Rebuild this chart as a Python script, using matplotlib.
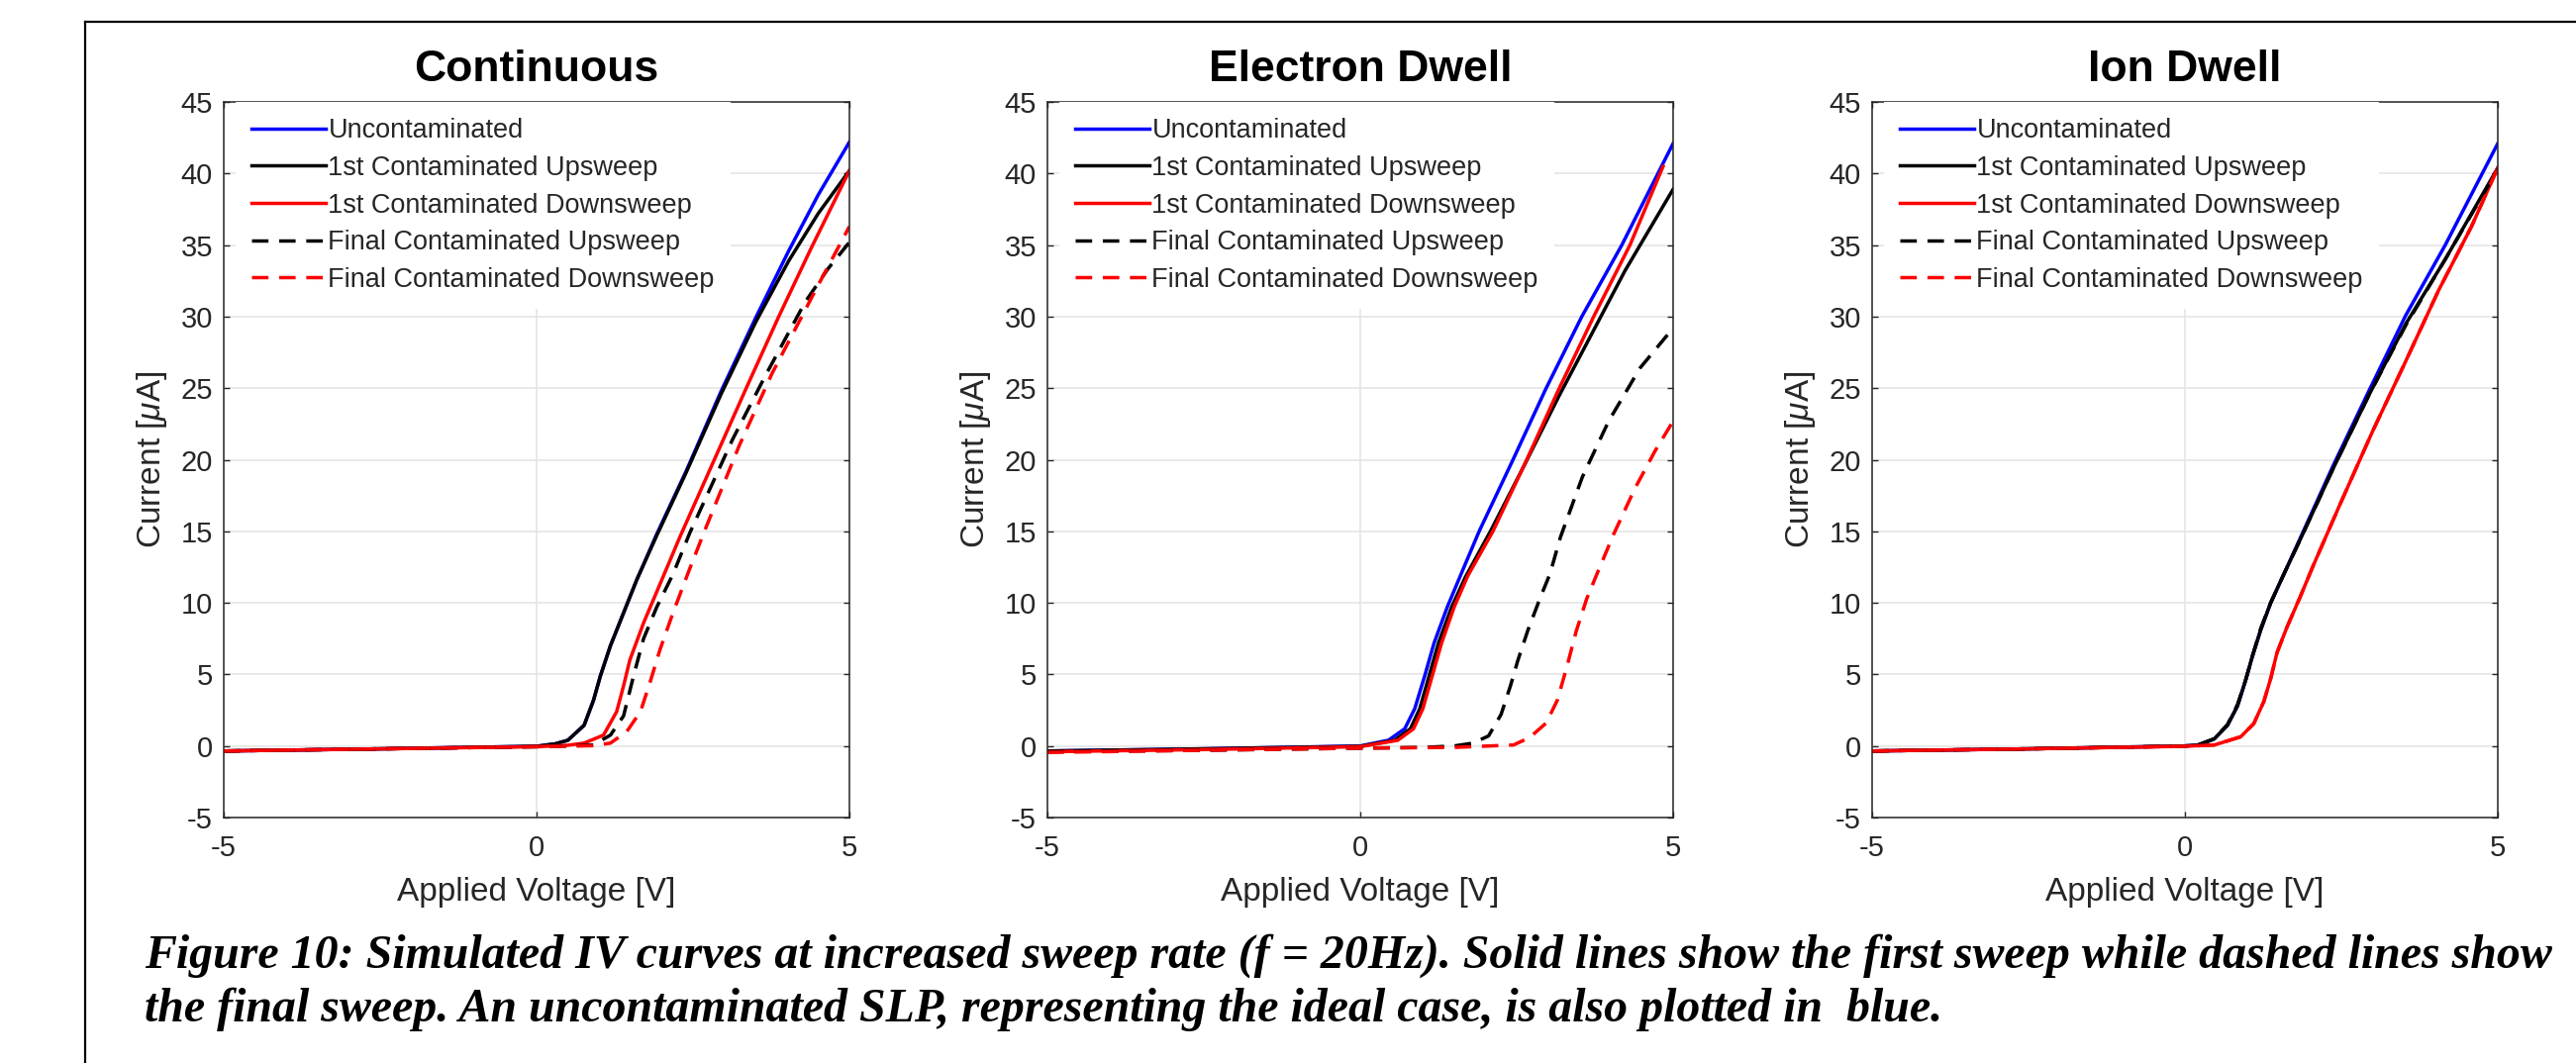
import numpy as np
import matplotlib
matplotlib.use('Agg')
import matplotlib.pyplot as plt
from matplotlib.lines import Line2D

plt.rcParams['font.family'] = 'Liberation Sans'
plt.rcParams['mathtext.fontset'] = 'custom'
plt.rcParams['mathtext.rm'] = 'Liberation Sans'
plt.rcParams['mathtext.it'] = 'Liberation Sans:italic'
plt.rcParams['axes.unicode_minus'] = False

titles = ['Continuous', 'Electron Dwell', 'Ion Dwell']
labels = ['Uncontaminated', '1st Contaminated Upsweep', '1st Contaminated Downsweep',
          'Final Contaminated Upsweep', 'Final Contaminated Downsweep']

# Continuous
cont_unc_V = [-5, -2.5, 0, 0.3, 0.5, 0.76, 0.91, 1.02, 1.18, 1.39, 1.6, 1.92, 2.39, 2.95, 3.5, 4.03, 4.5, 5]
cont_unc_I = [-0.35, -0.2, -0.02, 0.15, 0.4, 1.45, 3.2, 4.9, 7.0, 9.3, 11.6, 14.8, 19.2, 24.8, 29.9, 34.6, 38.5, 42.2]
cont_up1_V = [-5, -2.5, 0, 0.3, 0.5, 0.76, 0.91, 1.02, 1.18, 1.39, 1.6, 1.92, 2.39, 2.95, 3.5, 4.03, 4.5, 5]
cont_up1_I = [-0.35, -0.2, -0.02, 0.15, 0.4, 1.45, 3.2, 4.9, 7.0, 9.3, 11.6, 14.7, 19.1, 24.6, 29.6, 33.9, 37.2, 40.2]
cont_dn1_V = [-5, -2.5, 0, 0.5, 0.76, 1.07, 1.28, 1.39, 1.49, 1.71, 2.02, 2.29, 2.82, 3.34, 3.87, 4.39, 5]
cont_dn1_I = [-0.35, -0.2, -0.05, 0.05, 0.2, 0.76, 2.4, 4.2, 6.0, 8.6, 11.8, 14.6, 19.8, 24.9, 30.0, 34.8, 40.2]
cont_upN_V = [-5, -2.5, 0, 0.5, 0.91, 1.18, 1.39, 1.55, 1.71, 1.92, 2.18, 2.45, 3.13, 3.66, 4.29, 4.65, 5]
cont_upN_I = [-0.35, -0.2, -0.05, 0.0, 0.07, 0.76, 2.1, 4.9, 7.5, 9.7, 12.0, 14.9, 21.4, 25.9, 31.0, 33.3, 35.2]
cont_dnN_V = [-5, -2.5, 0, 0.9, 1.18, 1.44, 1.66, 1.81, 1.97, 2.18, 2.44, 2.71, 3.24, 3.76, 4.5, 5]
cont_dnN_I = [-0.35, -0.2, -0.05, 0.02, 0.2, 1.0, 2.4, 4.4, 6.7, 9.3, 12.3, 15.3, 21.0, 26.0, 32.2, 36.3]

# Electron Dwell
ed_unc_V = [-5, -2.5, 0, 0.45, 0.71, 0.87, 1.03, 1.18, 1.39, 1.61, 1.9, 2.43, 2.96, 3.54, 4.18, 5]
ed_unc_I = [-0.35, -0.2, 0.0, 0.4, 1.2, 2.6, 4.9, 7.2, 9.7, 12.0, 15.0, 19.9, 24.9, 30.0, 35.0, 42.1]
ed_up1_V = [-5, -2.5, 0, 0.55, 0.8, 0.95, 1.1, 1.25, 1.46, 1.68, 2.08, 2.62, 3.17, 3.7, 4.23, 5]
ed_up1_I = [-0.35, -0.2, -0.02, 0.4, 1.2, 2.6, 4.9, 7.2, 9.7, 11.8, 15.0, 19.6, 24.4, 28.8, 33.2, 38.9]
ed_dn1_V = [-5, -2.5, 0, 0.6, 0.85, 1.0, 1.15, 1.3, 1.5, 1.72, 2.12, 2.65, 3.17, 3.73, 4.31, 4.84]
ed_dn1_I = [-0.4, -0.25, -0.05, 0.4, 1.2, 2.6, 4.9, 7.2, 9.7, 11.9, 15.0, 19.9, 24.9, 30.0, 35.0, 40.5]
ed_upN_V = [-5, -2.5, 0, 1.0, 1.5, 1.8, 2.05, 2.25, 2.4, 2.52, 2.68, 2.88, 3.03, 3.2, 3.55, 3.97, 4.47, 5]
ed_upN_I = [-0.4, -0.3, -0.15, -0.1, 0.0, 0.2, 0.7, 2.2, 4.2, 6.0, 8.1, 10.4, 12.0, 14.6, 18.8, 22.7, 26.4, 29.2]
ed_dnN_V = [-5, -2.5, 0, 1.5, 2.45, 2.71, 2.97, 3.15, 3.3, 3.45, 3.62, 3.8, 4.05, 4.39, 4.71, 5]
ed_dnN_I = [-0.45, -0.3, -0.15, -0.1, 0.07, 0.6, 1.6, 3.2, 5.5, 8.0, 10.3, 12.2, 14.8, 18.0, 20.6, 22.7]

# Ion Dwell
id_unc_V = [-5, -2.5, 0, 0.21, 0.47, 0.68, 0.84, 0.97, 1.08, 1.21, 1.37, 1.58, 1.84, 2.37, 2.95, 3.53, 4.16, 5]
id_unc_I = [-0.35, -0.2, 0.0, 0.07, 0.5, 1.45, 2.8, 4.6, 6.3, 8.1, 10.0, 12.0, 14.5, 19.6, 24.9, 30.1, 35.0, 42.1]
id_up1_V = [-5, -2.5, 0, 0.21, 0.47, 0.68, 0.84, 0.97, 1.08, 1.21, 1.37, 1.58, 1.84, 2.37, 2.95, 3.53, 4.16, 5]
id_up1_I = [-0.35, -0.2, 0.0, 0.07, 0.5, 1.45, 2.8, 4.6, 6.3, 8.1, 10.0, 12.0, 14.4, 19.4, 24.6, 29.5, 34.0, 40.4]
id_dn1_V = [-5, -2.5, 0, 0.47, 0.89, 1.1, 1.26, 1.37, 1.47, 1.63, 1.84, 2.05, 2.47, 3.0, 3.53, 4.05, 4.58, 5]
id_dn1_I = [-0.35, -0.2, -0.02, 0.07, 0.64, 1.56, 3.1, 4.7, 6.5, 8.3, 10.4, 12.6, 16.8, 22.0, 26.9, 31.8, 36.3, 40.4]
id_upN_V = [-5, -2.5, 0, 0.21, 0.47, 0.68, 0.84, 0.97, 1.08, 1.21, 1.37, 1.58, 1.84, 2.37, 2.95, 3.53, 4.16, 5]
id_upN_I = [-0.35, -0.2, 0.0, 0.07, 0.5, 1.5, 2.9, 4.6, 6.3, 8.2, 10.0, 12.0, 14.4, 19.4, 24.6, 29.4, 34.0, 40.3]
id_dnN_V = [-5, -2.5, 0, 0.47, 0.89, 1.1, 1.26, 1.37, 1.47, 1.63, 1.84, 2.05, 2.47, 3.0, 3.53, 4.05, 4.58, 5]
id_dnN_I = [-0.35, -0.2, -0.02, 0.07, 0.64, 1.56, 3.1, 4.7, 6.5, 8.3, 10.4, 12.6, 16.8, 22.0, 26.9, 31.8, 36.3, 40.4]

panels = [
    [(cont_unc_V, cont_unc_I), (cont_up1_V, cont_up1_I), (cont_dn1_V, cont_dn1_I), (cont_upN_V, cont_upN_I), (cont_dnN_V, cont_dnN_I)],
    [(ed_unc_V, ed_unc_I), (ed_up1_V, ed_up1_I), (ed_dn1_V, ed_dn1_I), (ed_upN_V, ed_upN_I), (ed_dnN_V, ed_dnN_I)],
    [(id_unc_V, id_unc_I), (id_up1_V, id_up1_I), (id_dn1_V, id_dn1_I), (id_upN_V, id_upN_I), (id_dnN_V, id_dnN_I)],
]
colors = ['#0000ff', '#000000', '#ff0000', '#000000', '#ff0000']
styles = ['-', '-', '-', '--', '--']

W, H = 2602, 1074
fig = plt.figure(figsize=(W / 100, H / 100), dpi=100)
dark = '#262626'

lefts = [226, 1058, 1891]
for k in range(3):
    ax = fig.add_axes([lefts[k] / W, 1 - 826 / H, 632 / W, 723 / H])
    for j, (v, i) in enumerate(panels[k]):
        line, = ax.plot(v, i, color=colors[j], linestyle=styles[j], lw=2.5, label=labels[j])
        if styles[j] == '--':
            line.set_dashes((4.8, 3.1))
    ax.set_xlim(-5, 5)
    ax.set_ylim(-5, 45)
    ax.set_xticks([-5, 0, 5])
    ax.set_yticks(np.arange(-5, 46, 5))
    ax.grid(True, color='#e3e3e3', lw=1.1)
    ax.set_axisbelow(True)
    ax.tick_params(direction='in', top=True, right=True, length=4.5, width=1,
                   colors=dark, labelsize=21)
    ax.tick_params(axis='x', pad=12)
    ax.tick_params(axis='y', pad=8)
    for s in ax.spines.values():
        s.set_color(dark)
        s.set_linewidth(1.1)
    ax.set_xlabel('Applied Voltage [V]', fontsize=24, color=dark)
    ax.set_ylabel(r'Current [$\mu$A]', fontsize=24, color=dark)
    ax.xaxis.set_label_coords(0.5, -0.105)
    ax.xaxis.label.set_va('center')
    ax.yaxis.set_label_coords(-0.1155, 0.5)
    ax.yaxis.label.set_va('center')
    fig.text((lefts[k] + 316) / W, 1 - 82 / H, titles[k], ha='center', va='baseline',
             fontsize=32, fontweight='bold')
    leg = ax.legend(loc='upper left', bbox_to_anchor=(0.019, 1), borderaxespad=0, fontsize=19.5,
                    handlelength=2.75, handletextpad=0.1, labelspacing=0.43, borderpad=0.6,
                    frameon=True, fancybox=False, edgecolor='none', facecolor='white', framealpha=1)
    for t in leg.get_texts():
        t.set_color(dark)

# caption
fig.text(146 / W, 1 - 978 / H,
         'Figure 10: Simulated IV curves at increased sweep rate (f = 20Hz). Solid lines show the first sweep while dashed lines show',
         fontsize=34.5, fontfamily='Liberation Serif', fontweight='bold', fontstyle='italic', va='baseline')
fig.text(146 / W, 1 - 1032 / H,
         'the final sweep. An uncontaminated SLP, representing the ideal case, is also plotted in  blue.',
         fontsize=34.5, fontfamily='Liberation Serif', fontweight='bold', fontstyle='italic', va='baseline')

# page frame
fig.add_artist(Line2D([86 / W, 1], [1 - 22 / H, 1 - 22 / H], color='black', lw=1.6))
fig.add_artist(Line2D([86 / W, 86 / W], [0, 1 - 22 / H], color='black', lw=1.6))

fig.savefig('out.png', dpi=100)
